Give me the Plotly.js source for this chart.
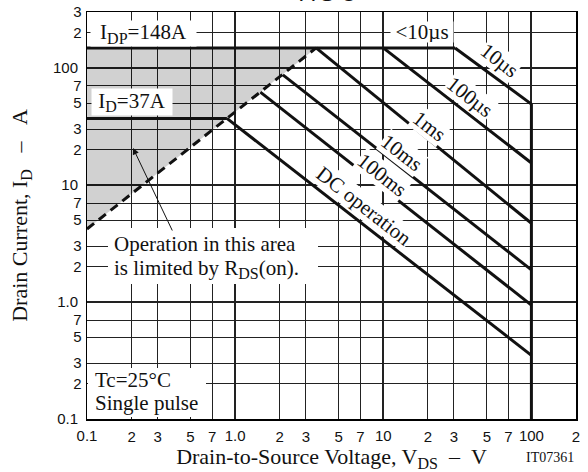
<!DOCTYPE html>
<html>
<head>
<meta charset="utf-8">
<script src="https://cdn.plot.ly/plotly-3.0.1.min.js"></script>
<style>html,body{margin:0;padding:0;background:#fff}#chart{width:588px;height:472px}</style>
</head>
<body>
<div id="chart"></div>
<script>
// ---- Data ----
const minorX = [0.2, 0.3, 0.5, 0.7, 2, 3, 5, 7, 20, 30, 50, 70, 200];
const minorXText = ['2', '3', '5', '7', '2', '3', '5', '7', '2', '3', '5', '7', '2'];
const decadeX = [0.1, 1, 10, 100];
const decadeXText = ['0.1', '1.0', '10', '100'];
const minorY = [0.2, 0.3, 0.5, 0.7, 2, 3, 5, 7, 20, 30, 50, 70, 200, 300];
const minorYText = ['2', '3', '5', '7', '2', '3', '5', '7', '2', '3', '5', '7', '2', '3'];
const decadeY = [0.1, 1, 10, 100];
const decadeYText = ['0.1', '1.0', '10', '100'];

// R_DS(on) limit (dashed)
const rdsV = [0.1, 3.52];
const rdsI = [4.2, 148];
// I_DP = 148 A pulse limit
const idpV = [0.1, 30.5];
const idpI = [148, 148];
// I_D = 37 A
const idV = [0.1, 0.88];
const idI = [37, 37];
// pulse-width curves
const us10V = [30.5, 100];    const us10I = [148, 49];
const vdssV = [100, 100];     const vdssI = [49, 0.1];
const us100V = [10, 100];     const us100I = [148, 15.4];
const ms1V = [3.52, 100];     const ms1I = [148, 4.7];
const ms10V = [2.1, 100];     const ms10I = [87, 1.88];
const ms100V = [1.48, 100];   const ms100I = [62, 0.94];
const dcV = [0.88, 100];      const dcI = [37, 0.35];

// ---- Layout helpers (plot area in pixels: x 87..576, y 12..419) ----
const PL = 87, PR = 576, PT = 12, PB = 419;
function px(x) { return (x - PL) / (PR - PL); }
function py(y) { return (PB - y) / (PB - PT); }

const SERIF = 'Liberation Serif, Times New Roman, serif';
const SANS = 'Liberation Sans, Arial, sans-serif';
const INK = '#111';
const FS = 21;

const solid = {color: '#111', width: 3};
function seg(xs, ys, line) {
  return {x: xs, y: ys, type: 'scatter', mode: 'lines', line: line || solid,
          hoverinfo: 'skip', showlegend: false, xaxis: 'x', yaxis: 'y'};
}

const traces = [
  // gray area limited by RDS(on)
  {x: [rdsV[0], rdsV[0], rdsV[1], rdsV[0]], y: [rdsI[0], idpI[0], rdsI[1], rdsI[0]],
   type: 'scatter', mode: 'lines', fill: 'toself', fillcolor: 'rgba(0,0,0,0.18)',
   line: {width: 0}, hoverinfo: 'skip', showlegend: false},
  seg(rdsV, rdsI, {color: '#111', width: 3, dash: '9px,6px'}),
  seg(idpV, idpI), seg(idV, idI),
  seg(us10V, us10I), seg(vdssV, vdssI), seg(us100V, us100I),
  seg(ms1V, ms1I), seg(ms10V, ms10I), seg(ms100V, ms100I), seg(dcV, dcI),
  // invisible trace to anchor the decade overlay axes
  {x: [decadeX[1]], y: [decadeY[1]], type: 'scatter', mode: 'markers',
   marker: {opacity: 0}, hoverinfo: 'skip', showlegend: false, xaxis: 'x2', yaxis: 'y2'}
];

const xRange = [-1, Math.log10(200)];
const yRange = [-1, Math.log10(300)];

function box(text, cx, cy, w, h, extra) {
  return Object.assign({
    text: text, xref: 'paper', yref: 'paper', x: px(cx), y: py(cy),
    xanchor: 'center', yanchor: 'middle', showarrow: false,
    bgcolor: '#fff', borderpad: 0, width: w, height: h,
    font: {family: SERIF, size: FS, color: INK}
  }, extra || {});
}
function line(text, lx, cy) {
  return {
    text: text, xref: 'paper', yref: 'paper', x: px(lx), y: py(cy),
    xanchor: 'left', yanchor: 'middle', showarrow: false,
    font: {family: SERIF, size: FS, color: INK}
  };
}
function rot(text, cx, cy) {
  return {
    text: text, xref: 'paper', yref: 'paper', x: px(cx), y: py(cy),
    xanchor: 'center', yanchor: 'middle', showarrow: false, textangle: 38,
    bgcolor: '#fff', borderpad: 0,
    font: {family: SERIF, size: FS, color: INK}
  };
}
function whiteRect(x0, y0, x1, y1) {
  return {type: 'rect', xref: 'paper', yref: 'paper', layer: 'above',
          x0: px(x0), x1: px(x1), y0: py(y1), y1: py(y0),
          fillcolor: '#fff', line: {width: 0}};
}
const SUB = (t) => '<sub><span style="font-size:16px">' + t + '</span></sub>';

const annotations = [
  // chart title, cut off by the top edge as in the reference
  {text: 'A S O', xref: 'paper', yref: 'paper', x: px(328), y: 1, xanchor: 'center',
   yanchor: 'bottom', yshift: 4, showarrow: false,
   font: {family: SANS, size: 22, color: INK}},
  box('I' + SUB('DP') + '=148A', 143.5, 33, 105, 25),
  box('I' + SUB('D') + '=37A', 132, 102, 80, 26),
  box('&lt;10µs', 421.5, 32, 62, 20),
  rot('10µs', 499, 60),
  rot('100µs', 470, 97),
  rot('1ms', 429, 126),
  rot('10ms', 402, 153),
  rot('100ms', 382, 175),
  rot('DC operation', 364, 206),
  {text: '', xref: 'paper', yref: 'paper', x: px(133), y: py(148), showarrow: true,
   ax: 40, ay: 84, arrowhead: 2, arrowsize: 1.3, arrowwidth: 1, arrowcolor: '#111'},
  line('Operation in this area', 112, 244),
  line('is limited by R' + SUB('DS') + '(on).', 112, 269),
  line('Tc=25°C', 93, 380),
  line('Single pulse', 93, 403),
  {text: 'IT07361', xref: 'paper', yref: 'paper', x: 1, y: py(457), xanchor: 'right',
   yanchor: 'middle', showarrow: false, font: {family: SERIF, size: 14, color: INK}}
];

const shapes = [
  whiteRect(108, 228, 318, 284),
  whiteRect(88, 368, 206, 417)
];

const gridCol = '#222';
const layout = {
  width: 588, height: 472,
  margin: {l: PL, r: 588 - PR, t: PT, b: 472 - PB, pad: 0},
  paper_bgcolor: '#fff', plot_bgcolor: '#fff',
  showlegend: false,
  xaxis: {
    type: 'log', range: xRange, tickmode: 'array', tickvals: minorX, ticktext: minorXText,
    showgrid: true, gridcolor: gridCol, gridwidth: 1, zeroline: false,
    showline: true, mirror: true, linecolor: '#000', linewidth: 1.5, ticks: '',
    ticklabelstandoff: 3,
    tickfont: {family: SANS, size: 15, color: INK},
    title: {text: 'Drain-to-Source Voltage, V' + SUB('DS') + '\u00A0\u00A0–\u00A0\u00A0V',
            font: {family: SERIF, size: 22, color: INK}, standoff: 4}
  },
  yaxis: {
    type: 'log', range: yRange, tickmode: 'array', tickvals: minorY, ticktext: minorYText,
    showgrid: true, gridcolor: gridCol, gridwidth: 1, zeroline: false,
    showline: true, mirror: true, linecolor: '#000', linewidth: 1.5, ticks: '',
    ticklabelstandoff: 1,
    tickfont: {family: SANS, size: 15, color: INK},
    title: {text: 'Drain Current, I' + SUB('D') + '\u00A0\u00A0\u00A0–\u00A0\u00A0\u00A0A',
            font: {family: SERIF, size: 22, color: INK}, standoff: 39}
  },
  xaxis2: {
    type: 'log', range: xRange, overlaying: 'x', side: 'bottom', anchor: 'y',
    tickmode: 'array', tickvals: decadeX, ticktext: decadeXText,
    showgrid: true, gridcolor: gridCol, gridwidth: 2, zeroline: false,
    showline: false, ticks: '', ticklabelstandoff: 6,
    tickfont: {family: SANS, size: 15, color: INK}
  },
  yaxis2: {
    type: 'log', range: yRange, overlaying: 'y', side: 'left', anchor: 'x',
    tickmode: 'array', tickvals: decadeY, ticktext: decadeYText,
    showgrid: true, gridcolor: gridCol, gridwidth: 2, zeroline: false,
    showline: false, ticks: '', ticklabelstandoff: 8,
    tickfont: {family: SANS, size: 15, color: INK}
  },
  shapes: shapes,
  annotations: annotations
};

Plotly.newPlot('chart', traces, layout, {staticPlot: true, displayModeBar: false});
</script>
</body>
</html>
